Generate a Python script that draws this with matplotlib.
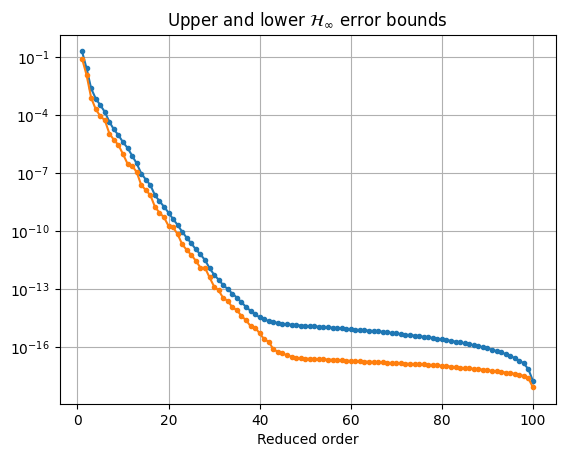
import numpy as np
import matplotlib
matplotlib.use("Agg")
import matplotlib.pyplot as plt

# reduced orders 1..100
orders = list(range(1, 101))

# log10 of the upper H-inf error bound
upper_log = [
    -0.70, -1.58, -2.62, -3.14, -3.48, -3.83, -4.35, -4.74, -5.04, -5.40,
    -5.70, -6.10, -6.50, -7.02, -7.33, -7.62, -8.14, -8.45, -8.74, -9.05,
    -9.38, -9.69, -10.04, -10.35, -10.64, -10.95, -11.21, -11.50, -11.92, -12.26,
    -12.52, -12.80, -13.00, -13.24, -13.44, -13.69, -13.92, -14.13, -14.30, -14.47,
    -14.57, -14.66, -14.72, -14.75, -14.81, -14.83, -14.84, -14.86, -14.89, -14.90,
    -14.92, -14.93, -14.95, -14.96, -14.98, -15.00, -15.02, -15.03, -15.05, -15.08,
    -15.10, -15.12, -15.14, -15.15, -15.17, -15.19, -15.21, -15.24, -15.27, -15.30,
    -15.33, -15.36, -15.38, -15.41, -15.44, -15.47, -15.50, -15.53, -15.57, -15.60,
    -15.64, -15.68, -15.72, -15.76, -15.81, -15.86, -15.91, -15.96, -16.01, -16.07,
    -16.14, -16.21, -16.28, -16.36, -16.45, -16.58, -16.70, -16.85, -17.15, -17.76,
]

# log10 of the lower H-inf error bound
lower_log = [
    -1.07, -1.93, -3.10, -3.69, -4.05, -4.26, -4.95, -5.28, -5.55, -6.02,
    -6.52, -6.62, -6.95, -7.62, -7.88, -8.14, -8.74, -9.05, -9.29, -9.74,
    -9.81, -10.17, -10.69, -10.98, -11.24, -11.54, -11.90, -11.90, -12.40, -12.87,
    -13.07, -13.47, -13.61, -13.95, -14.09, -14.40, -14.61, -14.92, -15.00, -15.29,
    -15.60, -15.73, -16.12, -16.25, -16.33, -16.43, -16.50, -16.56, -16.59, -16.60,
    -16.61, -16.62, -16.63, -16.64, -16.65, -16.66, -16.67, -16.69, -16.70, -16.72,
    -16.73, -16.74, -16.75, -16.76, -16.77, -16.79, -16.80, -16.81, -16.83, -16.84,
    -16.85, -16.86, -16.87, -16.88, -16.89, -16.90, -16.92, -16.93, -16.95, -16.97,
    -16.99, -17.01, -17.04, -17.07, -17.09, -17.11, -17.13, -17.15, -17.17, -17.20,
    -17.23, -17.26, -17.29, -17.32, -17.35, -17.39, -17.44, -17.50, -17.62, -18.09,
]

upper = 10.0 ** np.array(upper_log)
lower = 10.0 ** np.array(lower_log)

fig = plt.figure(figsize=(5.65, 4.57), dpi=100)
ax = fig.add_axes([59.5 / 565, 1 - 404.2 / 457, 496 / 565, 369.6 / 457])

ax.semilogy(orders, upper, '.-')
ax.semilogy(orders, lower, '.-')

ax.set_title(r'Upper and lower $\mathcal{H}_\infty$ error bounds')
ax.set_xlabel('Reduced order')
ax.grid()

fig.savefig('out.png', dpi=100)
